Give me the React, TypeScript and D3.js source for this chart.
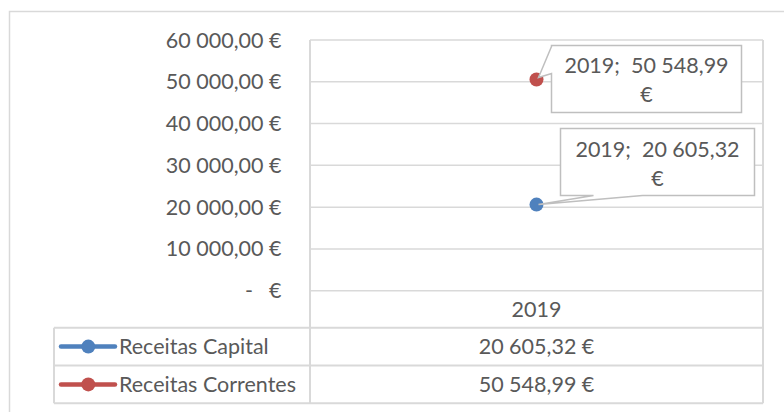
import React from "react";
import * as d3 from "d3";

const categories = ["2019"];
const seriesNames = ["Receitas Capital", "Receitas Correntes"];
const capitalValues = [20605.32];
const correntesValues = [50548.99];
const seriesColors = ["#4f81bd", "#c0504d"];
const yTicks = [0, 10000, 20000, 30000, 40000, 50000, 60000];

const W = 784;
const H = 412;
const FONT = "Lato, 'Open Sans', sans-serif";
const FS = 21.5;
const TXT = "#595959";
const GRID = "#d9d9d9";

const locale = d3.formatLocale({
  decimal: ",",
  thousands: "\u00a0",
  grouping: [3],
  currency: ["", " €"],
});
const fmtNum = locale.format(",.2f");
const fmtCur = (v: number) => fmtNum(v) + " €";

export default function App() {
  const plotL = 310;
  const plotR = 763;
  const plotT = 40;
  const plotB = 290.7;
  const axisRowB = 327.7;
  const rowH = 37.8;
  const legendL = 54;

  const y = d3.scaleLinear().domain([0, 60000]).range([plotB, plotT]);
  const x = d3.scaleBand().domain(categories).range([plotL, plotR]);
  const cx = (c: string) => (x(c) ?? 0) + x.bandwidth() / 2;

  const series = [
    { name: seriesNames[0], values: capitalValues, color: seriesColors[0] },
    { name: seriesNames[1], values: correntesValues, color: seriesColors[1] },
  ];

  const tableB = axisRowB + rowH * series.length;

  // label callout layouts (offsets relative to the point)
  const labelBoxes = [
    { dx: 24, dy: -76, w: 194, h: 67, wedge: "bottom" },
    { dx: 15, dy: -34, w: 190, h: 67, wedge: "left" },
  ];

  return (
    <svg
      width={W}
      height={H}
      style={{ position: "absolute", left: 0, top: 0, background: "#fff" }}
      fontFamily={FONT}
    >
      {/* outer chart border */}
      <rect x={9.5} y={11.5} width={W + 20} height={H + 20} fill="#fff" stroke={GRID} strokeWidth={1.5} />

      {/* gridlines */}
      {yTicks.map((t) => (
        <line key={t} x1={plotL} x2={plotR} y1={y(t)} y2={y(t)} stroke={GRID} strokeWidth={1.5} />
      ))}
      {/* y-axis labels */}
      {yTicks.map((t) =>
        t === 0 ? (
          <g key={t}>
            <text x={249} y={y(t)} dy="0.35em" textAnchor="middle" fontSize={FS} fill={TXT}>-</text>
            <text x={281.5} y={y(t)} dy="0.35em" textAnchor="end" fontSize={FS} fill={TXT}>€</text>
          </g>
        ) : (
          <text key={t} x={281.5} y={y(t)} dy="0.35em" textAnchor="end" fontSize={FS} fill={TXT}>
            {fmtCur(t)}
          </text>
        )
      )}

      {/* data table lines */}
      <line x1={plotL} x2={plotL} y1={plotT} y2={tableB} stroke={GRID} strokeWidth={2} />
      <line x1={plotR} x2={plotR} y1={plotT} y2={tableB} stroke={GRID} strokeWidth={2} />
      <line x1={legendL} x2={legendL} y1={axisRowB} y2={tableB} stroke={GRID} strokeWidth={2} />
      {series.map((s, i) => (
        <line key={i} x1={legendL} x2={plotR} y1={axisRowB + rowH * i} y2={axisRowB + rowH * i} stroke={GRID} strokeWidth={2} />
      ))}
      <line x1={legendL} x2={plotR} y1={tableB} y2={tableB} stroke={GRID} strokeWidth={2} />

      {/* category labels */}
      {categories.map((c) => (
        <text key={c} x={cx(c)} y={(plotB + axisRowB) / 2} dy="0.35em" textAnchor="middle" fontSize={FS} fill={TXT}>
          {c}
        </text>
      ))}

      {/* table rows */}
      {series.map((s, i) => {
        const rowMid = axisRowB + rowH * i + rowH / 2;
        return (
          <g key={s.name}>
            <line x1={61} x2={115} y1={rowMid} y2={rowMid} stroke={s.color} strokeWidth={4.5} strokeLinecap="round" />
            <circle cx={88.3} cy={rowMid} r={7} fill={s.color} />
            <text x={119} y={rowMid} dy="0.35em" fontSize={FS} fill={TXT}>{s.name}</text>
            {categories.map((c, j) => (
              <text key={c} x={cx(c)} y={rowMid} dy="0.35em" textAnchor="middle" fontSize={FS} fill={TXT}>
                {fmtCur(s.values[j])}
              </text>
            ))}
          </g>
        );
      })}

      {/* markers and labels */}
      {series.map((s, i) =>
        categories.map((c, j) => {
          const px = cx(c);
          const py = y(s.values[j]);
          const b = labelBoxes[i];
          const bx = px + b.dx;
          const by = py + b.dy;
          let outline = "";
          if (b.wedge === "left") {
            outline = [
              [bx, by + 1],
              [px + 2, py - 2],
              [bx, by + 28],
              [bx, by + b.h],
              [bx + b.w, by + b.h],
              [bx + b.w, by],
              [bx, by],
            ]
              .map((p, k) => (k ? "L" : "M") + p[0] + "," + p[1])
              .join("") + "Z";
          } else {
            outline = [
              [bx, by],
              [bx + b.w, by],
              [bx + b.w, by + b.h],
              [bx + 82, by + b.h],
              [px + 2, py],
              [bx + 33, by + b.h],
              [bx, by + b.h],
            ]
              .map((p, k) => (k ? "L" : "M") + p[0] + "," + p[1])
              .join("") + "Z";
          }
          return (
            <g key={s.name + c}>
              <circle cx={px} cy={py} r={7} fill={s.color} />
              <path d={outline} fill="#fff" stroke="#bfbfbf" strokeWidth={1.5} strokeLinejoin="miter" />
              <text
                x={bx + b.w / 2}
                y={by + 28}
                textAnchor="middle"
                fontSize={FS}
                fill={TXT}
                style={{ whiteSpace: "pre" }}
              >
                {c + ";  " + fmtNum(s.values[j])}
              </text>
              <text x={bx + b.w / 2} y={by + 57} textAnchor="middle" fontSize={FS} fill={TXT}>
                €
              </text>
            </g>
          );
        })
      )}
    </svg>
  );
}
